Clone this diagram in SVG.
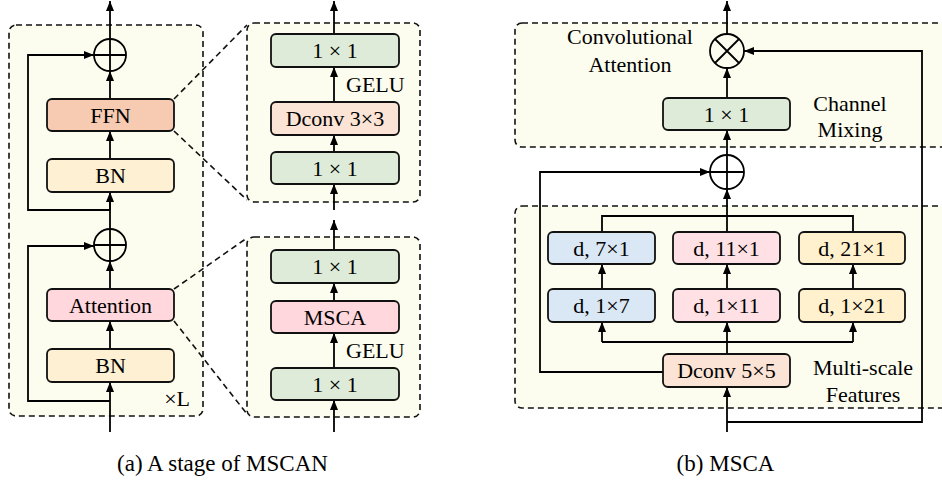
<svg xmlns="http://www.w3.org/2000/svg" width="942" height="481" viewBox="0 0 942 481">
<defs>
<marker id="ah" viewBox="0 0 10 8" refX="10" refY="4" markerWidth="10" markerHeight="8" markerUnits="userSpaceOnUse" orient="auto"><path d="M0,0 L10,4 L0,8 z" fill="#000"/></marker>
</defs>
<style>
text{font-family:"Liberation Serif","Times New Roman",serif;font-size:22px;fill:#000}
.c{text-anchor:middle}
.panel{fill:#FDFDEF;stroke:#111;stroke-width:1.6;stroke-dasharray:6 4}
.dash{fill:none;stroke:#111;stroke-width:1.6;stroke-dasharray:6 4}
.box{stroke:#111;stroke-width:1.8}
.ln{fill:none;stroke:#000;stroke-width:1.8}
.ar{fill:none;stroke:#000;stroke-width:1.8;marker-end:url(#ah)}
.op{fill:none;stroke:#000;stroke-width:1.8}
.green{fill:#DDEBD8}.ffn{fill:#F7CBB1}.bn{fill:#FEF0D2}.att{fill:#FFD7DC}.dconv{fill:#FBE3D5}
.blue{fill:#DAE8F5}.pink{fill:#FFE1E5}.yel{fill:#FFF1CE}
</style>
<!-- panels -->
<rect class="panel" x="9" y="25" width="194" height="391" rx="7"/>
<rect class="panel" x="247" y="23" width="173" height="179" rx="7"/>
<rect class="panel" x="247" y="237" width="173" height="180" rx="7"/>
<rect class="panel" x="515" y="23" width="440" height="124" rx="7"/>
<rect class="panel" x="515" y="206" width="440" height="202" rx="7"/>
<!-- zoom dashed lines -->
<g id="zoomlines">
<path class="dash" d="M174,99 L247,25"/>
<path class="dash" d="M174,131 L247,200"/>
<path class="dash" d="M174,289 L247,238"/>
<path class="dash" d="M174,321 L247,414"/>
</g>
<!-- connectors -->
<g id="connectors">
<path class="ar" d="M110,39 L110,1"/>
<path class="ar" d="M110,99 L110,71"/>
<path class="ar" d="M110,210 L110,131"/>
<path class="ar" d="M110,229 L110,192"/>
<path class="ar" d="M110,210 L28,210 L28,55 L94,55"/>
<path class="ar" d="M110,289 L110,261"/>
<path class="ar" d="M110,349 L110,321"/>
<path class="ar" d="M110,432 L110,382"/>
<path class="ar" d="M110,401 L28,401 L28,246 L94,246"/>
<path class="ar" d="M334,34 L334,1"/>
<path class="ar" d="M334,102 L334,67"/>
<path class="ar" d="M334,152 L334,135"/>
<path class="ar" d="M334,210 L334,184"/>
<path class="ar" d="M334,250 L334,220"/>
<path class="ar" d="M334,301 L334,283"/>
<path class="ar" d="M334,368 L334,333"/>
<path class="ar" d="M334,432 L334,400"/>
<path class="ar" d="M727,34 L727,1"/>
<path class="ar" d="M727,98 L727,68"/>
<path class="ar" d="M727,155 L727,130"/>
<path class="ar" d="M727,232 L727,189"/>
<path class="ln" d="M602,232 L602,216 L853,216 L853,232"/>
<path class="ar" d="M602,289 L602,264"/>
<path class="ar" d="M727,289 L727,264"/>
<path class="ar" d="M853,289 L853,264"/>
<path class="ar" d="M727,354 L727,322"/>
<path class="ln" d="M602,342 L853,342"/>
<path class="ar" d="M602,342 L602,322"/>
<path class="ar" d="M853,342 L853,322"/>
<path class="ar" d="M727,432 L727,387"/>
<path class="ar" d="M727,422 L922,422 L922,51 L744,51"/>
<path class="ar" d="M663,372 L540,372 L540,172 L710,172"/>
</g>
<!-- left panel nodes -->
<g id="add1"><circle class="op" cx="110" cy="55" r="16"/><path class="op" d="M94,55 H126 M110,39 V71"/></g>
<g id="ffn"><rect class="box ffn" x="47" y="99" width="127" height="32" rx="5"/><text class="c" x="110.5" y="123">FFN</text></g>
<g id="bn1"><rect class="box bn" x="47" y="159" width="127" height="33" rx="5"/><text class="c" x="110.5" y="183">BN</text></g>
<g id="add2"><circle class="op" cx="110" cy="245" r="16"/><path class="op" d="M94,245 H126 M110,229 V261"/></g>
<g id="attention"><rect class="box att" x="47" y="289" width="127" height="32" rx="5"/><text class="c" x="110.5" y="313">Attention</text></g>
<g id="bn2"><rect class="box bn" x="47" y="349" width="127" height="33" rx="5"/><text class="c" x="110.5" y="373">BN</text></g>
<g id="xL"><text x="190" y="406" text-anchor="end">×L</text></g>
<!-- middle top nodes -->
<g id="ffn-1x1-top"><rect class="box green" x="271" y="34" width="128" height="33" rx="5"/><text class="c" x="335" y="58">1 × 1</text></g>
<g id="gelu1"><text x="346" y="92">GELU</text></g>
<g id="dconv3"><rect class="box dconv" x="271" y="102" width="128" height="33" rx="5"/><text class="c" x="335" y="126">Dconv 3×3</text></g>
<g id="ffn-1x1-bot"><rect class="box green" x="271" y="152" width="128" height="32" rx="5"/><text class="c" x="335" y="176">1 × 1</text></g>
<!-- middle bottom nodes -->
<g id="att-1x1-top"><rect class="box green" x="271" y="250" width="128" height="33" rx="5"/><text class="c" x="335" y="274">1 × 1</text></g>
<g id="msca"><rect class="box att" x="271" y="301" width="128" height="32" rx="5"/><text class="c" x="335" y="325">MSCA</text></g>
<g id="gelu2"><text x="346" y="358">GELU</text></g>
<g id="att-1x1-bot"><rect class="box green" x="271" y="368" width="128" height="32" rx="5"/><text class="c" x="335" y="392">1 × 1</text></g>
<!-- right nodes -->
<g id="mul"><circle class="op" cx="727" cy="51" r="17"/><path class="op" d="M715,39 L739,63 M739,39 L715,63"/></g>
<g id="conv-att-label"><text class="c" x="630" y="44">Convolutional</text><text class="c" x="630" y="72">Attention</text></g>
<g id="mix-1x1"><rect class="box green" x="663" y="98" width="127" height="32" rx="5"/><text class="c" x="726.5" y="122">1 × 1</text></g>
<g id="mix-label"><text class="c" x="850" y="111">Channel</text><text class="c" x="850" y="137">Mixing</text></g>
<g id="add3"><circle class="op" cx="727" cy="172" r="17"/><path class="op" d="M710,172 H744 M727,155 V189"/></g>
<g id="d7x1"><rect class="box blue" x="548" y="232" width="107" height="32" rx="5"/><text class="c" x="601.5" y="256">d, 7×1</text></g>
<g id="d11x1"><rect class="box pink" x="673" y="232" width="107" height="32" rx="5"/><text class="c" x="726.5" y="256">d, 11×1</text></g>
<g id="d21x1"><rect class="box yel" x="799" y="232" width="106" height="32" rx="5"/><text class="c" x="852" y="256">d, 21×1</text></g>
<g id="d1x7"><rect class="box blue" x="548" y="289" width="107" height="33" rx="5"/><text class="c" x="601.5" y="313">d, 1×7</text></g>
<g id="d1x11"><rect class="box pink" x="673" y="289" width="107" height="33" rx="5"/><text class="c" x="726.5" y="313">d, 1×11</text></g>
<g id="d1x21"><rect class="box yel" x="799" y="289" width="106" height="33" rx="5"/><text class="c" x="852" y="313">d, 1×21</text></g>
<g id="dconv5"><rect class="box dconv" x="663" y="354" width="127" height="33" rx="5"/><text class="c" x="726.5" y="378">Dconv 5×5</text></g>
<g id="ms-label"><text class="c" x="863" y="375">Multi-scale</text><text class="c" x="863" y="402">Features</text></g>
<!-- captions -->
<g id="captions"><text class="c" x="222.5" y="471" style="font-size:23px">(a) A stage of MSCAN</text><text class="c" x="725.5" y="471" style="font-size:23px">(b) MSCA</text></g>
</svg>
